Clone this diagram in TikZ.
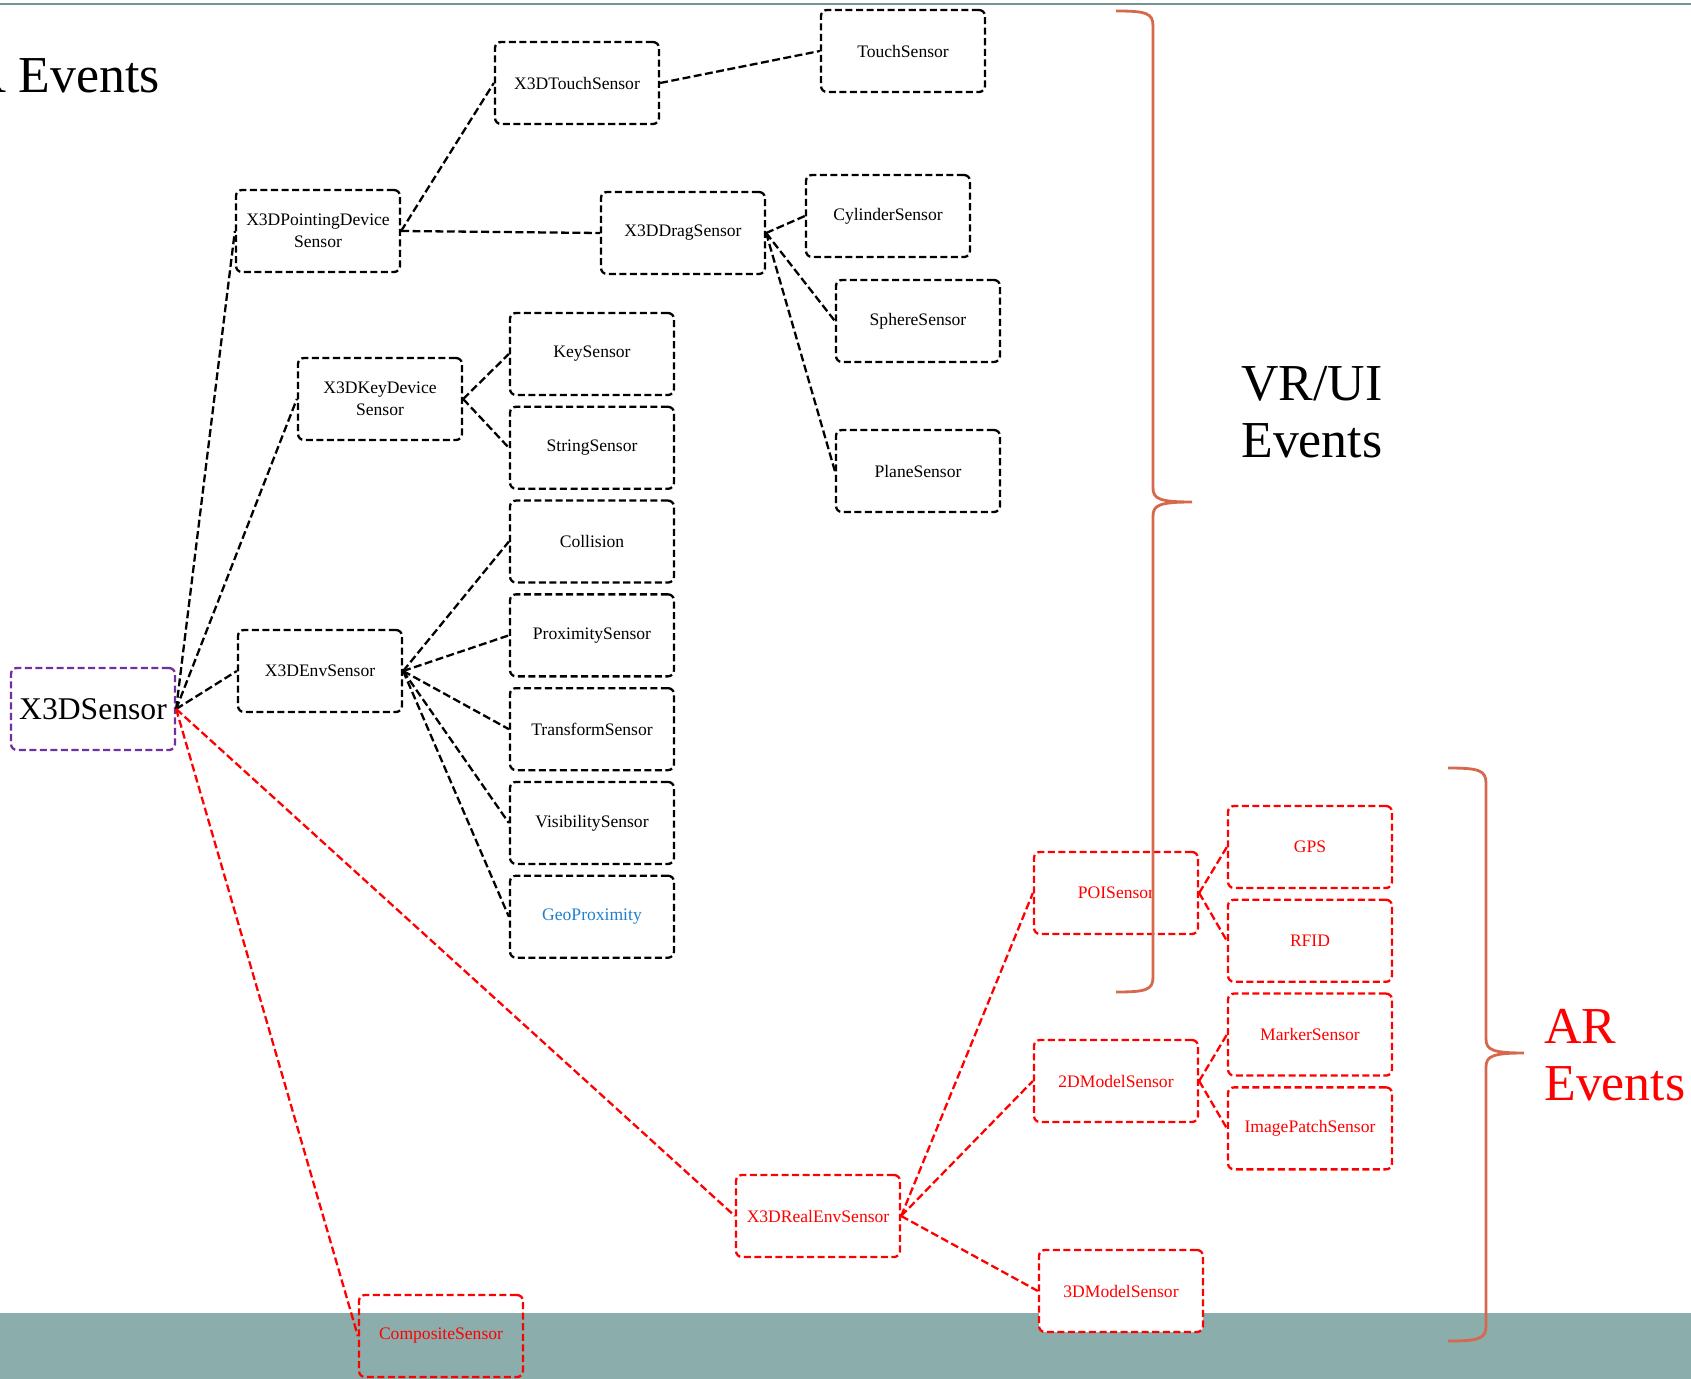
\documentclass[tikz,border=0pt]{standalone}
\usepackage{fontspec}
\setmainfont{Liberation Serif}
\usetikzlibrary{positioning}

\definecolor{bracecol}{RGB}{214,104,78}
\definecolor{bandcol}{RGB}{139,173,172}
\definecolor{rulecol}{RGB}{118,148,148}
\definecolor{basepurple}{RGB}{112,48,160}
\definecolor{geoblue}{RGB}{31,126,206}

\begin{document}
\begin{tikzpicture}[
    x=0.2mm, y=-0.2mm,
    node distance=1.9mm,
    sensor/.style={
      rectangle, rounded corners=1.2mm, draw, line width=1.3pt,
      dash pattern=on 4pt off 2pt, minimum width=32.8mm, minimum height=16.4mm,
      inner sep=1pt, align=center, font=\fontsize{10}{12.5}\selectfont
    },
    arsensor/.style={sensor, draw=red, text=red},
    link/.style={line width=1.3pt, dash pattern=on 4.5pt off 2pt},
    arlink/.style={link, red},
    bracket/.style={line width=1.6pt, bracecol},
    bigtext/.style={inner sep=0pt, align=left, font=\fontsize{29.5}{32.4}\selectfont}
  ]
  \useasboundingbox (0,0) rectangle (1691,1379);
  \fill[bandcol] (0,1313) rectangle (1691,1379);
  \draw[rulecol, line width=0.55mm] (0,4) -- (1691,4);

  \node[bigtext, anchor=base east] (title) at (160,93) {R Events};
  \node[bigtext, anchor=base west] (vrui) at (1241,457) {VR/UI\\Events};
  \node[bigtext, anchor=base west, text=red] (arev) at (1544,1100) {AR\\Events};

  \node[sensor, draw=basepurple, font=\fontsize{18}{21}\selectfont] (x3d) at (93,709) {X3DSensor};
  \node[sensor] (pointing) at (318,231) {X3DPointingDevice\\Sensor};
  \node[sensor] (touch3d) at (577,83) {X3DTouchSensor};
  \node[sensor] (touch) at (903,51) {TouchSensor};
  \node[sensor] (drag) at (683,233) {X3DDragSensor};
  \node[sensor] (cylinder) at (888,216) {CylinderSensor};
  \node[sensor] (sphere) at (918,321) {SphereSensor};
  \node[sensor] (plane) at (918,471) {PlaneSensor};
  \node[sensor] (keydev) at (380,399) {X3DKeyDevice\\Sensor};
  \node[sensor] (key) at (592,354) {KeySensor};
  \node[sensor, below=of key] (string) {StringSensor};
  \node[sensor, below=of string] (collision) {Collision};
  \node[sensor, below=of collision] (proximity) {ProximitySensor};
  \node[sensor, below=of proximity] (transform) {TransformSensor};
  \node[sensor, below=of transform] (visibility) {VisibilitySensor};
  \node[sensor, below=of visibility, text=geoblue] (geo) {GeoProximity};
  \node[sensor] (envsensor) at (320,671) {X3DEnvSensor};

  \node[arsensor] (realenv) at (818,1216) {X3DRealEnvSensor};
  \node[arsensor] (poi) at (1116,893) {POISensor};
  \node[arsensor] (gps) at (1310,847) {GPS};
  \node[arsensor, below=of gps] (rfid) {RFID};
  \node[arsensor, below=of rfid] (marker) {MarkerSensor};
  \node[arsensor, below=of marker] (imagepatch) {ImagePatchSensor};
  \node[arsensor] (model2d) at (1116,1081) {2DModelSensor};
  \node[arsensor, fill=white] (model3d) at (1121,1291) {3DModelSensor};
  \node[arsensor] (composite) at (441,1336) {CompositeSensor};

  \draw[link] (x3d.east) -- (pointing.west);
  \draw[link] (x3d.east) -- (keydev.west);
  \draw[link] (x3d.east) -- (envsensor.west);
  \draw[link] (pointing.east) -- (touch3d.west);
  \draw[link] (pointing.east) -- (drag.west);
  \draw[link] (touch3d.east) -- (touch.west);
  \draw[link] (drag.east) -- (cylinder.west);
  \draw[link] (drag.east) -- (sphere.west);
  \draw[link] (drag.east) -- (plane.west);
  \draw[link] (keydev.east) -- (key.west);
  \draw[link] (keydev.east) -- (string.west);
  \draw[link] (envsensor.east) -- (collision.west);
  \draw[link] (envsensor.east) -- (proximity.west);
  \draw[link] (envsensor.east) -- (transform.west);
  \draw[link] (envsensor.east) -- (visibility.west);
  \draw[link] (envsensor.east) -- (geo.west);
  \draw[arlink] (x3d.east) -- (realenv.west);
  \draw[arlink] (x3d.east) -- (composite.west);
  \draw[arlink] (realenv.east) -- (poi.west);
  \draw[arlink] (realenv.east) -- (model2d.west);
  \draw[arlink] (realenv.east) -- (model3d.west);
  \draw[arlink] (poi.east) -- (gps.west);
  \draw[arlink] (poi.east) -- (rfid.west);
  \draw[arlink] (model2d.east) -- (marker.west);
  \draw[arlink] (model2d.east) -- (imagepatch.west);

  \draw[bracket] (1116,11) .. controls (1146,11) and (1153,13) .. (1153,26)
    -- (1153,488) .. controls (1153,499) and (1160,502) .. (1192,502)
    .. controls (1160,502) and (1153,505) .. (1153,516)
    -- (1153,977) .. controls (1153,990) and (1146,992) .. (1116,992);
  \draw[bracket] (1448,768) .. controls (1478,768) and (1486,770) .. (1486,783)
    -- (1486,1039) .. controls (1486,1050) and (1493,1053) .. (1524,1053)
    .. controls (1493,1053) and (1486,1056) .. (1486,1067)
    -- (1486,1326) .. controls (1486,1339) and (1478,1341) .. (1448,1341);
\end{tikzpicture}
\end{document}
